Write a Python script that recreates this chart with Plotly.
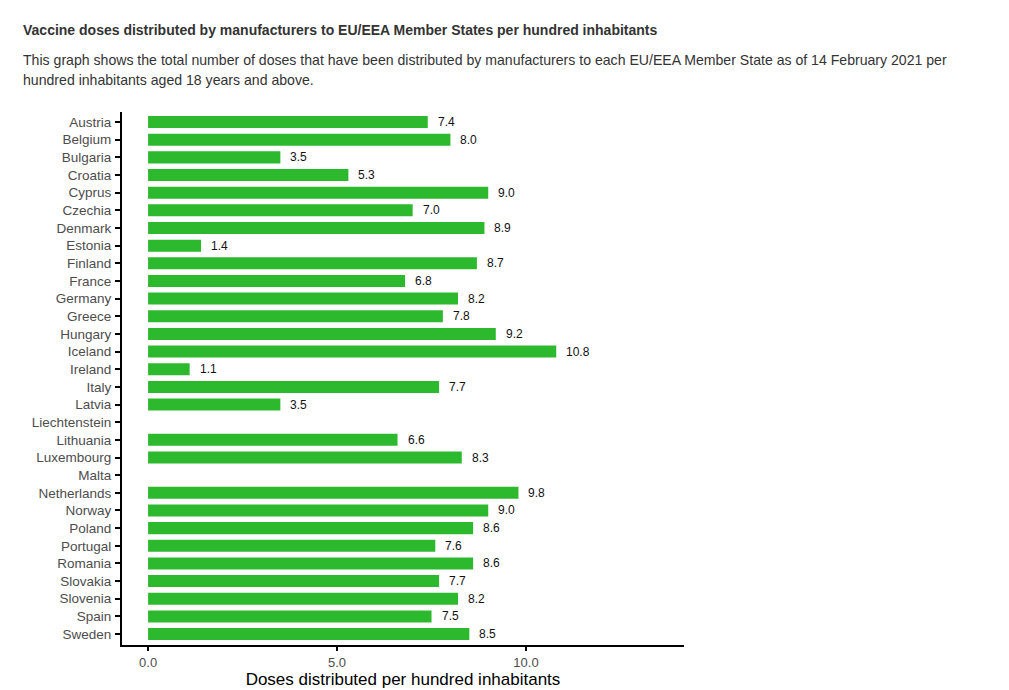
import plotly.graph_objects as go

countries = ["Austria", "Belgium", "Bulgaria", "Croatia", "Cyprus", "Czechia", "Denmark",
             "Estonia", "Finland", "France", "Germany", "Greece", "Hungary", "Iceland",
             "Ireland", "Italy", "Latvia", "Liechtenstein", "Lithuania", "Luxembourg",
             "Malta", "Netherlands", "Norway", "Poland", "Portugal", "Romania", "Slovakia",
             "Slovenia", "Spain", "Sweden"]
doses = [7.4, 8.0, 3.5, 5.3, 9.0, 7.0, 8.9, 1.4, 8.7, 6.8, 8.2, 7.8, 9.2, 10.8, 1.1, 7.7,
         3.5, None, 6.6, 8.3, None, 9.8, 9.0, 8.6, 7.6, 8.6, 7.7, 8.2, 7.5, 8.5]
x_ticks = [0, 5, 10]
x_tick_labels = ["0.0", "5.0", "10.0"]

FONT = "Liberation Sans, Arial, Helvetica, sans-serif"
n = len(countries)

fig = go.Figure()
fig.add_trace(go.Bar(
    x=doses, y=countries, orientation="h",
    marker=dict(color="#2DB92D", line=dict(width=0)),
    hoverinfo="x+y",
))

annotations = []
for c, v in zip(countries, doses):
    if v is None:
        continue
    annotations.append(dict(x=v, y=c, xref="x", yref="y", text=f"{v:.1f}",
                            showarrow=False, xanchor="left", yanchor="middle",
                            xshift=8, font=dict(family=FONT, size=12, color="#111111")))

PW = 684 - 122
PH = 645 - 112
def px(xp):
    return (xp - 122) / PW
def py(yp):
    return (645 - yp) / PH

annotations.append(dict(x=px(21), y=py(30), xref="paper", yref="paper", xanchor="left",
                        yanchor="middle", showarrow=False,
                        text="<b>Vaccine doses distributed by manufacturers to EU/EEA Member States per hundred inhabitants</b>",
                        font=dict(family=FONT, size=14, color="#333333")))
annotations.append(dict(x=px(21), y=py(60), xref="paper", yref="paper", xanchor="left",
                        yanchor="middle", showarrow=False,
                        text="This graph shows the total number of doses that have been distributed by manufacturers to each EU/EEA Member State as of 14 February 2021 per",
                        font=dict(family=FONT, size=14.1, color="#333333")))
annotations.append(dict(x=px(21), y=py(80), xref="paper", yref="paper", xanchor="left",
                        yanchor="middle", showarrow=False,
                        text="hundred inhabitants aged 18 years and above.",
                        font=dict(family=FONT, size=14.1, color="#333333")))

fig.update_layout(
    width=1009, height=690,
    margin=dict(l=122, r=325, t=112, b=45, pad=0),
    paper_bgcolor="white", plot_bgcolor="white",
    bargap=0.32,
    showlegend=False,
    annotations=annotations,
    font=dict(family=FONT),
    xaxis=dict(
        range=[-0.69, 14.18], tickvals=x_ticks, ticktext=x_tick_labels,
        showgrid=False, zeroline=False, showline=True, linecolor="black", linewidth=2,
        ticks="outside", ticklen=4, tickwidth=2, tickcolor="black",
        ticklabelstandoff=0,
        tickfont=dict(family=FONT, size=13, color="#4d4d4d"),
        automargin=False,
        title=dict(text="Doses distributed per hundred inhabitants",
                   font=dict(family=FONT, size=17, color="black"), standoff=2),
    ),
    yaxis=dict(
        categoryorder="array", categoryarray=countries,
        range=[n - 1 + 0.62, -0.57],
        showgrid=False, zeroline=False, showline=True, linecolor="black", linewidth=2,
        ticks="outside", ticklen=5, tickwidth=2, tickcolor="black",
        ticklabelstandoff=1,
        automargin=False,
        tickfont=dict(family=FONT, size=13.5, color="#4d4d4d"),
    ),
)

fig.write_html("out.html")
